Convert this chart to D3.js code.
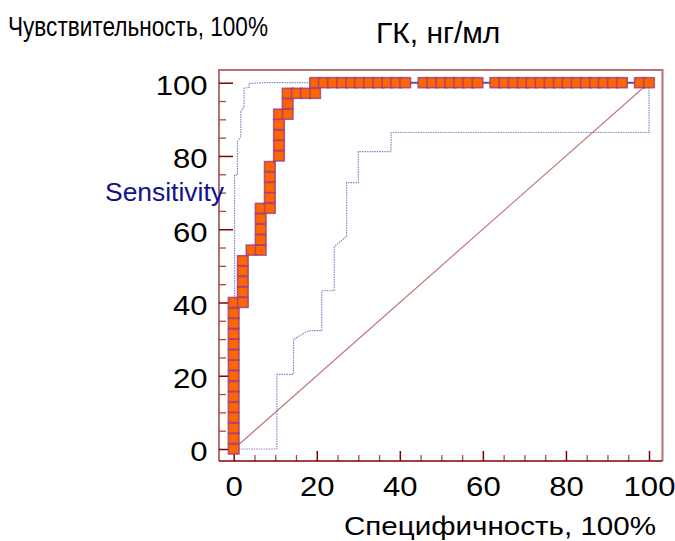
<!DOCTYPE html>
<html>
<head>
<meta charset="utf-8">
<script src="https://cdn.jsdelivr.net/npm/d3@7"></script>
<style>
  body { margin: 0; background: #fff; }
  text { font-family: "Liberation Sans", Arial, sans-serif; }
</style>
</head>
<body>
<div id="chart"></div>
<script>
// ROC curve points: specificity (x) and sensitivity (y), in %
var rocSpec = [0, 0, 0, 0, 0, 0, 0, 0, 0, 0, 0, 0, 0, 0, 0,
  2.2, 2.2, 2.2, 2.2, 2.2,
  4.3,
  6.5, 6.5, 6.5, 6.5, 6.5,
  8.7, 8.7, 8.7, 8.7, 8.7,
  10.9, 10.9, 10.9, 10.9, 10.9,
  13.0, 13.0, 13.0,
  15.2, 17.4, 19.6, 19.6,
  21.7, 23.9, 26.1, 28.3, 30.4, 32.6, 34.8, 37.0, 39.1, 41.3,
  45.7, 47.8, 50.0, 52.2, 54.3, 56.5, 58.7,
  63.0, 65.2, 67.4, 69.6, 71.7, 73.9, 76.1, 78.3, 80.4, 82.6, 84.8, 87.0, 89.1, 91.3, 93.5,
  97.8, 100];
var rocSens = [0, 2.9, 5.7, 8.6, 11.4, 14.3, 17.1, 20.0, 22.9, 25.7, 28.6, 31.4, 34.3, 37.1, 40.0,
  40.0, 42.9, 45.7, 48.6, 51.4,
  54.3,
  54.3, 57.1, 60.0, 62.9, 65.7,
  65.7, 68.6, 71.4, 74.3, 77.1,
  80.0, 82.9, 85.7, 88.6, 91.4,
  91.4, 94.3, 97.1,
  97.1, 97.1, 97.1, 100,
  100, 100, 100, 100, 100, 100, 100, 100, 100, 100,
  100, 100, 100, 100, 100, 100, 100,
  100, 100, 100, 100, 100, 100, 100, 100, 100, 100, 100, 100, 100, 100, 100,
  100, 100];

// confidence bounds
var upperSpec = [0.2, 0.2, 0.9, 0.9, 1.7, 1.7, 2.5, 2.5, 3.7, 3.7, 7.4, 100];
var upperSens = [0, 74.8, 74.8, 83.9, 85.3, 92.1, 93.4, 98.5, 98.7, 99.8, 100, 100];
var lowerSpec = [0, 10.4, 10.4, 14.4, 14.4, 18.0, 21.2, 21.2, 24.2, 24.2, 27.2, 27.2, 30.0, 30.0, 37.9, 37.9, 100, 100];
var lowerSens = [0, 0, 20.4, 20.4, 29.9, 32.3, 32.3, 43.2, 43.2, 55.2, 58.1, 72.7, 72.7, 81.2, 81.2, 86.4, 86.4, 100];

var majorTicks = [0, 20, 40, 60, 80, 100];
var minorTicks = [5, 10, 15, 25, 30, 35, 45, 50, 55, 65, 70, 75, 85, 90, 95];

var svg = d3.select("#chart").append("svg")
  .attr("width", 675)
  .attr("height", 541);

var x = d3.scaleLinear().domain([0, 100]).range([233.7, 649]);
var y = d3.scaleLinear().domain([0, 100]).range([449, 82.7]);

var frameLeft = 219, frameRight = 662.5, frameTop = 70, frameBottom = 461;

function pts(xs, ys) {
  return xs.map(function(d, i) { return [d, ys[i]]; });
}

var line = d3.line()
  .x(function(d) { return x(d[0]); })
  .y(function(d) { return y(d[1]); });

function stretch(sel, k) {
  sel.each(function() {
    var w = this.getComputedTextLength();
    d3.select(this).attr("textLength", w * k).attr("lengthAdjust", "spacingAndGlyphs");
  });
}

// frame
svg.append("path")
  .attr("d", "M" + frameLeft + "," + frameBottom + "V" + frameTop + "H" + frameRight + "V" + frameBottom)
  .attr("fill", "none")
  .style("stroke", "#b07474")
  .style("stroke-width", 2);

// diagonal
svg.append("path")
  .attr("d", line([[0, 0], [100, 100]]))
  .attr("fill", "none")
  .style("stroke", "#c07a7a")
  .style("stroke-width", 1.2);

// confidence lines
svg.selectAll(".ci").data([pts(upperSpec, upperSens), pts(lowerSpec, lowerSens)]).enter()
  .append("path")
  .attr("class", "ci")
  .attr("d", line)
  .attr("fill", "none")
  .style("stroke", "#8484cc")
  .style("stroke-width", 1.2)
  .style("stroke-dasharray", "1.5,1");

// y axis ticks (pointing inside)
var yMinor = svg.append("g")
  .attr("transform", "translate(" + frameLeft + ",0)")
  .call(d3.axisLeft(y).tickValues(minorTicks).tickSize(-7).tickFormat(""));
var yMajor = svg.append("g")
  .attr("transform", "translate(" + frameLeft + ",0)")
  .call(d3.axisLeft(y).tickValues(majorTicks).tickSize(-14).tickPadding(11.5));

// x axis ticks
var xMinor = svg.append("g")
  .attr("transform", "translate(0," + frameBottom + ")")
  .call(d3.axisBottom(x).tickValues(minorTicks).tickSize(-6).tickFormat(""));
var xMajor = svg.append("g")
  .attr("transform", "translate(0," + frameBottom + ")")
  .call(d3.axisBottom(x).tickValues(majorTicks).tickSize(-10));

[yMinor, yMajor, xMinor, xMajor].forEach(function(g) {
  g.select(".domain").remove();
});
yMinor.selectAll("line").style("stroke", "#a8484e").style("stroke-width", 1.3);
xMinor.selectAll("line").style("stroke", "#a8484e").style("stroke-width", 1.3);
yMajor.selectAll("line").style("stroke", "#800000").style("stroke-width", 1.5);
xMajor.selectAll("line").style("stroke", "#800000").style("stroke-width", 1.5);

yMajor.selectAll("text")
  .attr("dy", "0.44em")
  .style("font-size", "27px")
  .style("fill", "#000")
  .call(stretch, 1.15);
xMajor.selectAll("text")
  .attr("y", 35)
  .attr("dy", null)
  .style("font-size", "27px")
  .style("fill", "#000")
  .call(stretch, 1.15);

// x axis line
svg.append("line")
  .attr("x1", frameLeft).attr("x2", frameRight)
  .attr("y1", frameBottom).attr("y2", frameBottom)
  .style("stroke", "#800000")
  .style("stroke-width", 1.5);

// roc line and markers
var roc = pts(rocSpec, rocSens);
svg.append("path")
  .attr("d", line(roc))
  .attr("fill", "none")
  .style("stroke", "#5858a8")
  .style("stroke-width", 2);

svg.selectAll(".mark").data(roc).enter()
  .append("rect")
  .attr("class", "mark")
  .attr("x", function(d) { return x(d[0]) - 5.3; })
  .attr("y", function(d) { return y(d[1]) - 5; })
  .attr("width", 10.6)
  .attr("height", 10)
  .style("fill", "#ff6600")
  .style("stroke", "#a03c7c")
  .style("stroke-width", 1.6)
  .style("stroke-opacity", 0.8);

// titles
svg.append("text")
  .text("Чувствительность, 100%")
  .attr("x", 8).attr("y", 36)
  .attr("textLength", 260).attr("lengthAdjust", "spacingAndGlyphs")
  .style("font-size", "28px");

svg.append("text")
  .text("ГК, нг/мл")
  .attr("x", 376).attr("y", 43)
  .style("font-size", "30px");

svg.append("text")
  .text("Sensitivity")
  .attr("x", 105).attr("y", 200.7)
  .attr("textLength", 119).attr("lengthAdjust", "spacingAndGlyphs")
  .style("font-size", "25px")
  .style("fill", "#12128c");

svg.append("text")
  .text("Специфичность, 100%")
  .attr("x", 344).attr("y", 535)
  .attr("textLength", 312).attr("lengthAdjust", "spacingAndGlyphs")
  .style("font-size", "25.5px");
</script>
</body>
</html>
